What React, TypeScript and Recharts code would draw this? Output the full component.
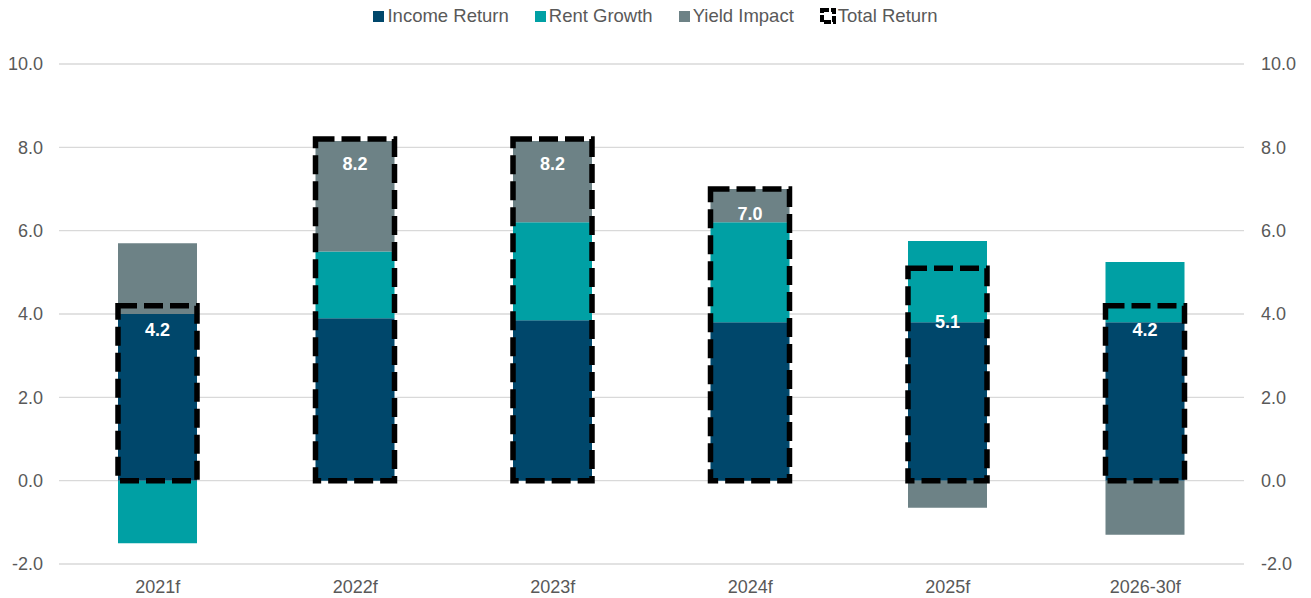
import React from 'react';
import { BarChart, Bar, XAxis, YAxis, CartesianGrid, Legend, LabelList } from 'recharts';

const years = ['2021f', '2022f', '2023f', '2024f', '2025f', '2026-30f'];
const incomeReturn = [4.0, 3.9, 3.85, 3.8, 3.8, 3.8];
const rentGrowth = [-1.5, 1.6, 2.35, 2.4, 1.95, 1.45];
const yieldImpact = [1.7, 2.65, 1.95, 0.8, -0.65, -1.3];
const totalReturn = [4.2, 8.2, 8.2, 7.0, 5.1, 4.2];
const yTicks = [-2, 0, 2, 4, 6, 8, 10];

const data = years.map((year, i) => ({
  year,
  income: incomeReturn[i],
  rent: rentGrowth[i],
  yieldImpact: yieldImpact[i],
  total: totalReturn[i],
}));

const COLORS = {
  income: '#00476B',
  rent: '#00A0A4',
  yield: '#6D8286',
  text: '#595959',
  grid: '#D9D9D9',
};

const FONT = '"Liberation Sans", Arial, sans-serif';

// the 2025f label sits lower in the original
const labelNudge: Record<number, number> = { 4: 29 };

const TotalLabel = (props: any) => {
  const { x, y, width, value, index } = props;
  const top = y + 18 + (labelNudge[index] || 0);
  return (
    <text
      x={x + width / 2}
      y={top}
      dy="0.71em"
      textAnchor="middle"
      fill="#fff"
      fontWeight="bold"
      fontSize={18}
      fontFamily={FONT}
    >
      {Number(value).toFixed(1)}
    </text>
  );
};

const Swatch = ({ color }: { color: string }) => (
  <span style={{ display: 'inline-block', width: 11, height: 11, background: color, marginRight: 3 }} />
);

const LegendContent = () => {
  const item: React.CSSProperties = { display: 'flex', alignItems: 'center', marginRight: 26 };
  return (
    <div
      style={{
        display: 'flex',
        justifyContent: 'center',
        fontFamily: FONT,
        fontSize: 18.5,
        lineHeight: '22px',
        color: COLORS.text,
      }}
    >
      <div style={item}><Swatch color={COLORS.income} />Income Return</div>
      <div style={item}><Swatch color={COLORS.rent} />Rent Growth</div>
      <div style={item}><Swatch color={COLORS.yield} />Yield Impact</div>
      <div style={{ ...item, marginRight: 0 }}>
        <svg width={16} height={16} style={{ marginRight: 2 }}>
          <rect x={2} y={2} width={12} height={12} fill="none" stroke="#000" strokeWidth={4} strokeDasharray="7 2" />
        </svg>
        Total Return
      </div>
    </div>
  );
};

const tickStyle = { fill: COLORS.text, fontSize: 18, fontFamily: FONT };

export default function App() {
  return (
    <div style={{ width: 1311, height: 598, background: '#fff' }}>
      <style>{'body{margin:0}'}</style>
      <BarChart
        width={1311}
        height={598}
        data={data}
        stackOffset="sign"
        margin={{ top: 64, right: 0, bottom: 0, left: 0 }}
      >
        <CartesianGrid vertical={false} stroke={COLORS.grid} strokeWidth={1.3} yAxisId="left" xAxisId="main" />
        <XAxis
          xAxisId="main"
          dataKey="year"
          axisLine={false}
          tickLine={false}
          tickMargin={10}
          height={34}
          tick={tickStyle}
        />
        <XAxis xAxisId="total" dataKey="year" hide />
        <YAxis
          yAxisId="left"
          domain={[-2, 10]}
          ticks={yTicks}
          axisLine={false}
          tickLine={false}
          tickMargin={10}
          width={59}
          tick={tickStyle}
          tickFormatter={(v: number) => v.toFixed(1)}
        />
        <YAxis
          yAxisId="right"
          orientation="right"
          domain={[-2, 10]}
          ticks={yTicks}
          axisLine={false}
          tickLine={false}
          tickMargin={11}
          width={67}
          tick={{ ...tickStyle, textAnchor: 'start' }}
          tickFormatter={(v: number) => v.toFixed(1)}
        />
        <Legend
          verticalAlign="middle"
          align="center"
          layout="horizontal"
          wrapperStyle={{ top: 5, left: 0, width: 1311 }}
          content={<LegendContent />}
        />
        <Bar xAxisId="main" yAxisId="left" dataKey="income" stackId="a" fill={COLORS.income} barSize={79} isAnimationActive={false} />
        <Bar xAxisId="main" yAxisId="left" dataKey="rent" stackId="a" fill={COLORS.rent} barSize={79} isAnimationActive={false} />
        <Bar xAxisId="main" yAxisId="left" dataKey="yieldImpact" stackId="a" fill={COLORS.yield} barSize={79} isAnimationActive={false} />
        <Bar
          xAxisId="total"
          yAxisId="right"
          dataKey="total"
          fill="none"
          stroke="#000"
          strokeWidth={5.5}
          strokeDasharray="19 7"
          barSize={79}
          isAnimationActive={false}
        >
          <LabelList dataKey="total" content={<TotalLabel />} />
        </Bar>
      </BarChart>
    </div>
  );
}
